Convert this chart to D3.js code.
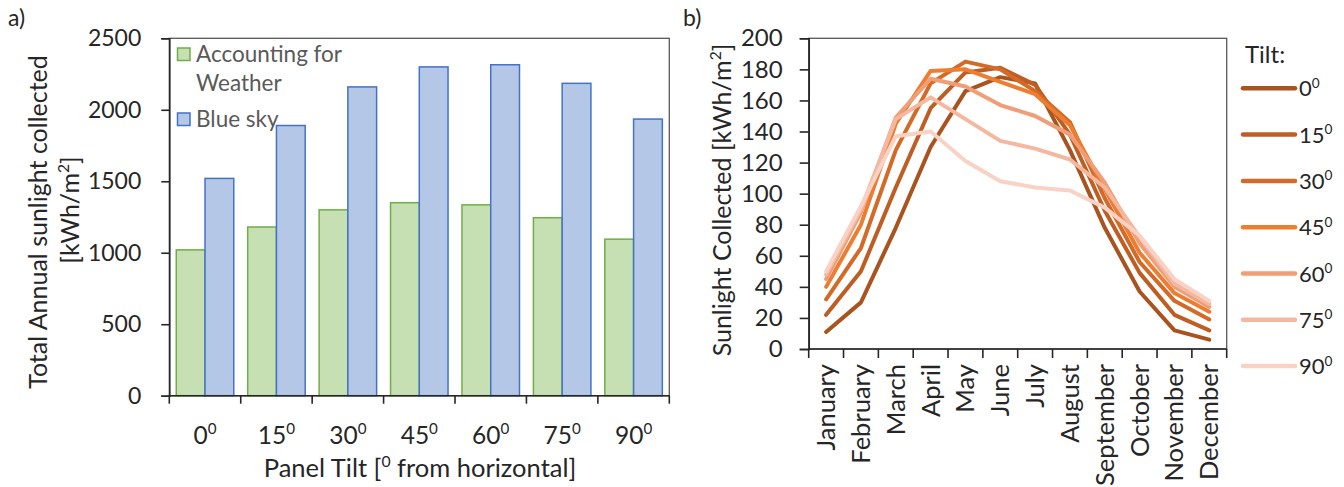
<!DOCTYPE html>
<html>
<head>
<meta charset="utf-8">
<script src="https://cdn.jsdelivr.net/npm/d3@7"></script>
<style>
  html, body { margin: 0; padding: 0; background: #fff; }
  svg { display: block; font-family: Lato, "Open Sans", sans-serif; }
</style>
</head>
<body>
<svg id="fig" width="1344" height="487"></svg>
<script>
// ---- Panel a: annual totals by panel tilt ----
const tilts = ["0", "15", "30", "45", "60", "75", "90"];
const weatherTotals = [1020, 1180, 1300, 1350, 1335, 1245, 1095];
const blueSkyTotals = [1520, 1890, 2160, 2300, 2315, 2185, 1935];
const totalTicks = [0, 500, 1000, 1500, 2000, 2500];

// ---- Panel b: monthly sunlight for each tilt ----
const months = ["January", "February", "March", "April", "May", "June",
                "July", "August", "September", "October", "November", "December"];
const tilt0  = [11, 30, 78, 130, 166, 175, 171, 128, 78, 37, 12, 6];
const tilt15 = [22, 50, 104, 155, 178, 181, 170, 138, 89, 49, 22, 12];
const tilt30 = [32, 65, 128, 171, 185, 180, 166, 146, 97, 56, 31, 19];
const tilt45 = [40, 80, 145, 179, 180, 172, 164, 144, 103, 62, 36, 24];
const tilt60 = [45, 88, 149, 174, 169, 157, 150, 138, 107, 68, 40, 27];
const tilt75 = [48, 90, 148, 162, 148, 134, 129, 122, 104, 72, 42, 29];
const tilt90 = [50, 92, 137, 140, 121, 108, 104, 102, 91, 73, 45, 31];
const monthlySeries = [tilt0, tilt15, tilt30, tilt45, tilt60, tilt75, tilt90];
const seriesColors = ["#A9531F", "#BF5E22", "#D56A28", "#ED7D31", "#F09E78", "#F4B8A0", "#F8D2C4"];
const monthlyTicks = [0, 20, 40, 60, 80, 100, 120, 140, 160, 180, 200];

const svg = d3.select("#fig");
const textColor = "#262626";
const plain = d3.format("d");

// degree-style suffix drawn as a small raised zero
function withDegree(sel, base) {
  sel.text(null);
  sel.append("tspan").text(base);
  sel.append("tspan").attr("font-size", "0.62em").attr("dy", "-0.62em").text("0");
}

// ================= Panel a =================
const A = { left: 169.3, right: 669.3, top: 38.3, bottom: 395.7 };
const xA = d3.scaleBand().domain(tilts).range([A.left, A.right]).paddingInner(0.195).paddingOuter(0.0975);
const xSub = d3.scaleBand().domain(["w", "b"]).range([0, xA.bandwidth()]);
const yA = d3.scaleLinear().domain([0, 2500]).range([A.bottom, A.top]);

const gA = svg.append("g");
// plot frame
gA.append("rect").attr("x", A.left).attr("y", A.top)
  .attr("width", A.right - A.left).attr("height", A.bottom - A.top)
  .attr("fill", "none").attr("stroke", "#595959").attr("stroke-width", 1.3);

const barsA = gA.append("g");
tilts.forEach((t, i) => {
  barsA.append("rect")
    .attr("x", xA(t) + xSub("w")).attr("y", yA(weatherTotals[i]))
    .attr("width", xSub.bandwidth()).attr("height", yA(0) - yA(weatherTotals[i]))
    .attr("fill", "#C6E0B4").attr("stroke", "#70AD47").attr("stroke-width", 1.5);
  barsA.append("rect")
    .attr("x", xA(t) + xSub("b")).attr("y", yA(blueSkyTotals[i]))
    .attr("width", xSub.bandwidth()).attr("height", yA(0) - yA(blueSkyTotals[i]))
    .attr("fill", "#B4C7E7").attr("stroke", "#4472C4").attr("stroke-width", 1.5);
});

// y axis
const yAxisA = gA.append("g").attr("transform", `translate(${A.left},0)`)
  .call(d3.axisLeft(yA).tickValues(totalTicks).tickFormat(plain).tickSize(8).tickPadding(20));
yAxisA.selectAll("text").attr("font-size", 23).attr("fill", textColor).attr("font-family", "Lato");
yAxisA.selectAll("line, path").attr("stroke", "#262626").attr("stroke-width", 1.6);

// x axis with tick marks on category boundaries
const xAxisA = gA.append("g").attr("transform", `translate(0,${A.bottom})`);
xAxisA.append("line").attr("x1", A.left).attr("x2", A.right).attr("y1", 0).attr("y2", 0)
  .attr("stroke", "#262626").attr("stroke-width", 1.6);
xAxisA.selectAll("line.tk").data(d3.range(tilts.length + 1)).join("line").attr("class", "tk")
  .attr("x1", i => A.left + i * xA.step()).attr("x2", i => A.left + i * xA.step())
  .attr("y1", 0).attr("y2", 8).attr("stroke", "#262626").attr("stroke-width", 1.6);
xAxisA.selectAll("text.lbl").data(tilts).join("text").attr("class", "lbl")
  .attr("x", d => xA(d) + xA.bandwidth() / 2).attr("y", 48)
  .attr("text-anchor", "middle").attr("font-size", 24.5).attr("fill", textColor)
  .each(function (d) { withDegree(d3.select(this), d); });

// axis titles
const xTitleA = gA.append("text").attr("x", 420).attr("y", 477).attr("text-anchor", "middle")
  .attr("font-size", 25.5).attr("fill", textColor);
xTitleA.append("tspan").text("Panel Tilt [");
xTitleA.append("tspan").attr("font-size", "0.62em").attr("dy", "-0.62em").text("0");
xTitleA.append("tspan").attr("dy", "0.38em").text(" from horizontal]");

const yTitleA = gA.append("text").attr("transform", "translate(47,222) rotate(-90)")
  .attr("text-anchor", "middle").attr("font-size", 25).attr("fill", textColor);
yTitleA.append("tspan").attr("x", 0).attr("y", 0).text("Total Annual sunlight collected");
const yTitleA2 = gA.append("text").attr("transform", "translate(79,210) rotate(-90)")
  .attr("text-anchor", "middle").attr("font-size", 25).attr("fill", textColor);
yTitleA2.append("tspan").text("[kWh/m");
yTitleA2.append("tspan").attr("font-size", "0.62em").attr("dy", "-0.62em").text("2");
yTitleA2.append("tspan").attr("dy", "0.38em").text("]");

// legend
const legA = gA.append("g");
legA.append("rect").attr("x", 177.5).attr("y", 48).attr("width", 12.5).attr("height", 12.5)
  .attr("fill", "#C6E0B4").attr("stroke", "#70AD47").attr("stroke-width", 1.5);
legA.append("text").attr("x", 196).attr("y", 62).attr("font-size", 22.5).attr("fill", "#595959").text("Accounting for");
legA.append("text").attr("x", 196).attr("y", 91).attr("font-size", 22.5).attr("fill", "#595959").text("Weather");
legA.append("rect").attr("x", 177.5).attr("y", 113).attr("width", 12.5).attr("height", 12.5)
  .attr("fill", "#B4C7E7").attr("stroke", "#4472C4").attr("stroke-width", 1.5);
legA.append("text").attr("x", 196).attr("y", 127).attr("font-size", 22.5).attr("fill", "#595959").text("Blue sky");

svg.append("text").attr("x", 8).attr("y", 26).attr("font-size", 23).attr("fill", textColor).text("a)");

// ================= Panel b =================
const B = { left: 808.7, right: 1226.7, top: 38.3, bottom: 349 };
const xB = d3.scaleBand().domain(months).range([B.left, B.right]);
const yB = d3.scaleLinear().domain([0, 200]).range([B.bottom, B.top]);

const gB = svg.append("g");
gB.append("rect").attr("x", B.left).attr("y", B.top)
  .attr("width", B.right - B.left).attr("height", B.bottom - B.top)
  .attr("fill", "none").attr("stroke", "#595959").attr("stroke-width", 1.3);

const yAxisB = gB.append("g").attr("transform", `translate(${B.left},0)`)
  .call(d3.axisLeft(yB).tickValues(monthlyTicks).tickFormat(plain).tickSize(9).tickPadding(17));
yAxisB.selectAll("text").attr("font-size", 24).attr("fill", textColor).attr("font-family", "Lato");
yAxisB.selectAll("line, path").attr("stroke", "#262626").attr("stroke-width", 1.6);

const xAxisB = gB.append("g").attr("transform", `translate(0,${B.bottom})`);
xAxisB.append("line").attr("x1", B.left).attr("x2", B.right).attr("stroke", "#262626").attr("stroke-width", 1.6);
xAxisB.selectAll("line.tk").data(d3.range(months.length + 1)).join("line").attr("class", "tk")
  .attr("x1", i => B.left + i * xB.step()).attr("x2", i => B.left + i * xB.step())
  .attr("y1", 0).attr("y2", 9).attr("stroke", "#262626").attr("stroke-width", 1.6);
xAxisB.selectAll("text.lbl").data(months).join("text").attr("class", "lbl")
  .attr("transform", d => `translate(${xB(d) + xB.bandwidth() / 2 + 9},15) rotate(-90)`)
  .attr("text-anchor", "end").attr("font-size", 25.5).attr("fill", textColor).text(d => d);

const line = d3.line()
  .x((d, i) => xB(months[i]) + xB.bandwidth() / 2)
  .y(d => yB(d));
gB.append("g").selectAll("path").data(monthlySeries).join("path")
  .attr("d", d => line(d)).attr("fill", "none")
  .attr("stroke", (d, i) => seriesColors[i]).attr("stroke-width", 4)
  .attr("stroke-linejoin", "round").attr("stroke-linecap", "round");

const yTitleB = gB.append("text").attr("transform", "translate(731,200) rotate(-90)")
  .attr("text-anchor", "middle").attr("font-size", 25).attr("fill", textColor);
yTitleB.append("tspan").text("Sunlight Collected [kWh/m");
yTitleB.append("tspan").attr("font-size", "0.62em").attr("dy", "-0.62em").text("2");
yTitleB.append("tspan").attr("dy", "0.38em").text("]");

// legend
const legB = gB.append("g");
legB.append("text").attr("x", 1245).attr("y", 63).attr("font-size", 24).attr("fill", textColor).text("Tilt:");
tilts.forEach((t, i) => {
  const y = 88.3 + i * 46.3;
  legB.append("line").attr("x1", 1243).attr("x2", 1295).attr("y1", y).attr("y2", y)
    .attr("stroke", seriesColors[i]).attr("stroke-width", 4.5).attr("stroke-linecap", "round");
  const tx = legB.append("text").attr("x", 1299).attr("y", y + 8).attr("font-size", 22).attr("fill", textColor);
  withDegree(tx, t);
});

svg.append("text").attr("x", 683).attr("y", 26).attr("font-size", 23).attr("fill", textColor).text("b)");
</script>
</body>
</html>
